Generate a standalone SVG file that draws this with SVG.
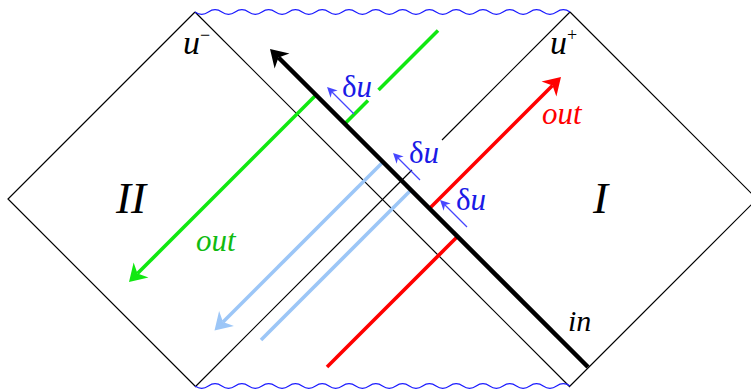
<svg xmlns="http://www.w3.org/2000/svg" width="751" height="392" viewBox="0 0 751 392">
<style>
.thin{fill:none;stroke:#000;stroke-width:1.2}
.wave{fill:none;stroke:#1a1aff;stroke-width:1.2}
.thick{fill:none;stroke:#000;stroke-width:4.5}
.ray{fill:none;stroke-width:3.6}
.g{stroke:#11e811}
.r{stroke:#ff0000}
.b{stroke:#9cc6f7}
.du{fill:none;stroke:#4646ff;stroke-width:1.2}
text{font-family:"Liberation Serif","Times New Roman",serif}
.it{font-style:italic}
.dul{font-size:31px;fill:#1a1ae6}
</style>
<defs>
<marker id="ahK" markerUnits="userSpaceOnUse" orient="auto" viewBox="-6 -11 19 22" refX="0" refY="0" markerWidth="19" markerHeight="22"><path d="M12,0 L-5,-10.5 L0,0 L-5,10.5 Z" fill="#000"/></marker>
<marker id="ahG" markerUnits="userSpaceOnUse" orient="auto" viewBox="-6 -11 19 22" refX="0" refY="0" markerWidth="19" markerHeight="22"><path d="M12,0 L-5,-10.5 L0,0 L-5,10.5 Z" fill="#11e811"/></marker>
<marker id="ahR" markerUnits="userSpaceOnUse" orient="auto" viewBox="-6 -11 19 22" refX="0" refY="0" markerWidth="19" markerHeight="22"><path d="M12,0 L-5,-10.5 L0,0 L-5,10.5 Z" fill="#ff0000"/></marker>
<marker id="ahB" markerUnits="userSpaceOnUse" orient="auto" viewBox="-6 -11 19 22" refX="0" refY="0" markerWidth="19" markerHeight="22"><path d="M12,0 L-5,-10.5 L0,0 L-5,10.5 Z" fill="#9cc6f7"/></marker>
<marker id="ahS" markerUnits="userSpaceOnUse" orient="auto" viewBox="-4 -6 12 12" refX="0" refY="0" markerWidth="12" markerHeight="12"><path d="M7,0 L-3,-5 L0,0 L-3,5 Z" fill="#4646ff"/></marker>
</defs>

<g id="spacetime">
<path class="thin" d="M195,12 L8,199 L195,386"/>
<path class="thin" d="M570,12 L757,199 L570,386"/>
<path class="thin" d="M195,12 L570,387"/>
<path class="thin" d="M570,12 L442,140 M412,170 L195,387"/>
<path class="wave" d="M195,12 q6.6964,4.6 13.3929,0 t13.3929,0 t13.3929,0 t13.3929,0 t13.3929,0 t13.3929,0 t13.3929,0 t13.3929,0 t13.3929,0 t13.3929,0 t13.3929,0 t13.3929,0 t13.3929,0 t13.3929,0 t13.3929,0 t13.3929,0 t13.3929,0 t13.3929,0 t13.3929,0 t13.3929,0 t13.3929,0 t13.3929,0 t13.3929,0 t13.3929,0 t13.3929,0 t13.3929,0 t13.3929,0 t13.3929,0"/>
<path class="wave" d="M195,386 q6.6964,4.6 13.3929,0 t13.3929,0 t13.3929,0 t13.3929,0 t13.3929,0 t13.3929,0 t13.3929,0 t13.3929,0 t13.3929,0 t13.3929,0 t13.3929,0 t13.3929,0 t13.3929,0 t13.3929,0 t13.3929,0 t13.3929,0 t13.3929,0 t13.3929,0 t13.3929,0 t13.3929,0 t13.3929,0 t13.3929,0 t13.3929,0 t13.3929,0 t13.3929,0 t13.3929,0 t13.3929,0 t13.3929,0"/>
</g>

<g id="rays">
<path class="ray g" d="M438,30.5 L378.5,90"/>
<path class="ray g" d="M368,100.5 L344.8,123.7"/>
<path class="ray g" d="M316,95 L137.5,273.5" marker-end="url(#ahG)"/>
<path class="ray r" d="M327,367 L457.5,236.5"/>
<path class="ray r" d="M429.5,208.5 L552.5,85.5" marker-end="url(#ahR)"/>
<path class="ray b" d="M383,162 L223,322" marker-end="url(#ahB)"/>
<path class="ray b" d="M411,190 L261,340"/>
<path class="thick" d="M588,367 L278.5,57.5" marker-end="url(#ahK)"/>
</g>

<g id="shifts">
<path class="du" d="M354,114 L332,92" marker-end="url(#ahS)"/>
<path class="du" d="M420,180 L398,158" marker-end="url(#ahS)"/>
<path class="du" d="M467,227 L445,205" marker-end="url(#ahS)"/>
<text class="dul" x="342" y="97">δ<tspan class="it">u</tspan></text>
<text class="dul" x="409" y="163">δ<tspan class="it">u</tspan></text>
<text class="dul" x="456" y="210">δ<tspan class="it">u</tspan></text>
</g>

<g id="labels">
<text class="it" x="183" y="54" font-size="34">u<tspan font-size="18" font-style="normal" dy="-13">−</tspan></text>
<text class="it" x="550" y="54" font-size="34">u<tspan font-size="18" font-style="normal" dy="-13">+</tspan></text>
<text class="it" x="116" y="213" font-size="45">II</text>
<text class="it" x="593" y="213" font-size="45">I</text>
<text class="it" x="196" y="251" font-size="31" fill="#11bb11">out</text>
<text class="it" x="542" y="124" font-size="31" fill="#ff0000">out</text>
<text class="it" x="568" y="331" font-size="30">in</text>
</g>
</svg>
